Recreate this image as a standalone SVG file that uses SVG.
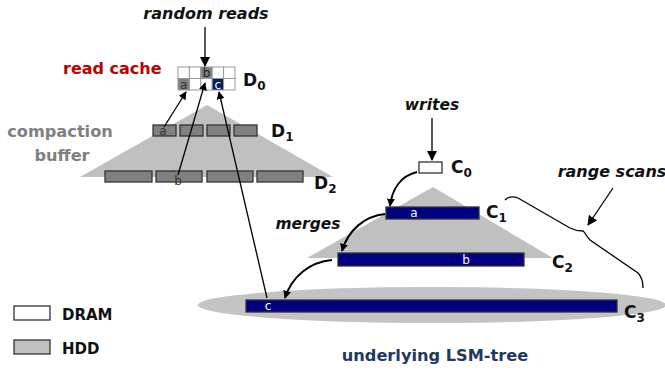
<svg xmlns="http://www.w3.org/2000/svg" width="665" height="371" viewBox="0 0 665 371">
<style>
.t{font-family:"DejaVu Sans","Liberation Sans",sans-serif;font-weight:bold}
.it{font-style:italic;fill:#111;font-size:15.5px}
.lbl{font-size:17px;fill:#111}
.sub{font-size:12px}
.hdd{fill:#808080;stroke:#333;stroke-width:1.3}
.cell{fill:#fff;stroke:#999;stroke-width:1}
.nv{fill:#000080;stroke:#333;stroke-width:1.3}
.tri{fill:#c0c0c0}
.in{font-family:"DejaVu Sans","Liberation Sans",sans-serif;font-size:12px}
.cn{fill:none;stroke:#000;stroke-width:1.3}
.cb{fill:none;stroke:#000;stroke-width:2}
</style>
<defs>
<marker id="ah" viewBox="0 0 10 10" refX="9" refY="5" markerWidth="8" markerHeight="8" markerUnits="userSpaceOnUse" orient="auto"><path d="M0,0 L10,5 L0,10 z" fill="#000"/></marker>
<marker id="ahb" viewBox="0 0 10 10" refX="9" refY="5" markerWidth="10" markerHeight="10" markerUnits="userSpaceOnUse" orient="auto"><path d="M0,0 L10,5 L0,10 z" fill="#000"/></marker>
</defs>
<g id="compaction-tree">
<polygon class="tri" points="207,105 80,177 333,177"/>
</g>
<g id="lsm-tree-shapes">
<ellipse cx="432" cy="305" rx="234" ry="18" fill="#c4c4c4"/>
<polygon class="tri" points="433,187 307,258 553,258"/>
</g>
<g id="read-cache">
<rect class="cell" x="178" y="67" width="11.4" height="11.5"/>
<rect class="cell" x="189.4" y="67" width="11.4" height="11.5"/>
<rect class="hdd" x="200.8" y="67" width="11.4" height="11.5" style="stroke:#999;stroke-width:1"/>
<rect class="cell" x="212.2" y="67" width="11.4" height="11.5"/>
<rect class="cell" x="223.6" y="67" width="11.4" height="11.5"/>
<rect class="hdd" x="178" y="78.5" width="11.4" height="11.5" style="stroke:#999;stroke-width:1"/>
<rect class="cell" x="189.4" y="78.5" width="11.4" height="11.5"/>
<rect class="cell" x="200.8" y="78.5" width="11.4" height="11.5"/>
<rect x="212.2" y="78.5" width="11.4" height="11.5" fill="#002060" stroke="#999"/>
<rect class="cell" x="223.6" y="78.5" width="11.4" height="11.5"/>
<text class="in" x="206.5" y="77" text-anchor="middle" fill="#222">b</text>
<text class="in" x="183.7" y="88.5" text-anchor="middle" fill="#333">a</text>
<text class="in" x="217.9" y="88.5" text-anchor="middle" fill="#fff">c</text>
<text class="t" x="63" y="74" font-size="16" fill="#c00000">read cache</text>
<text class="t lbl" x="243" y="86">D<tspan class="sub" dy="4">0</tspan></text>
</g>
<g id="D1">
<rect class="hdd" x="153" y="125" width="23" height="11"/>
<rect class="hdd" x="180" y="125" width="23" height="11"/>
<rect class="hdd" x="207" y="125" width="23" height="11"/>
<rect class="hdd" x="234" y="125" width="23" height="11"/>
<text class="in" x="163" y="135" text-anchor="middle" fill="#333">a</text>
<text class="t lbl" x="271" y="137">D<tspan class="sub" dy="4">1</tspan></text>
</g>
<g id="D2">
<rect class="hdd" x="105" y="171" width="47" height="11"/>
<rect class="hdd" x="156" y="171" width="46" height="11"/>
<rect class="hdd" x="207" y="171" width="46" height="11"/>
<rect class="hdd" x="257" y="171" width="46" height="11"/>
<text class="in" x="178" y="185" text-anchor="middle" fill="#333">b</text>
<text class="t lbl" x="314" y="189">D<tspan class="sub" dy="4">2</tspan></text>
</g>
<g id="compaction-label">
<text class="t" x="60" y="137" font-size="16.2" fill="#808080" text-anchor="middle">compaction</text>
<text class="t" x="62" y="161" font-size="16.2" fill="#808080" text-anchor="middle">buffer</text>
</g>
<g id="C0">
<rect x="419" y="162" width="23" height="11" fill="#fff" stroke="#333" stroke-width="1.3"/>
<text class="t lbl" x="451" y="173">C<tspan class="sub" dy="4">0</tspan></text>
</g>
<g id="C1">
<rect class="nv" x="386" y="207" width="93" height="12"/>
<text class="in" x="414" y="217" text-anchor="middle" fill="#fff">a</text>
<text class="t lbl" x="486" y="218">C<tspan class="sub" dy="4">1</tspan></text>
</g>
<g id="C2">
<rect class="nv" x="338" y="253" width="186" height="13"/>
<text class="in" x="466" y="264" text-anchor="middle" fill="#fff">b</text>
<text class="t lbl" x="552" y="268">C<tspan class="sub" dy="4">2</tspan></text>
</g>
<g id="C3">
<rect class="nv" x="246" y="300" width="371" height="12"/>
<text class="in" x="268" y="310" text-anchor="middle" fill="#fff">c</text>
<text class="t lbl" x="624" y="318">C<tspan class="sub" dy="4">3</tspan></text>
</g>
<g id="labels">
<text class="t it" x="206" y="19" text-anchor="middle" font-size="16" style="font-size:16px">random reads</text>
<text class="t it" x="432" y="110" text-anchor="middle">writes</text>
<text class="t it" x="308" y="229" text-anchor="middle">merges</text>
<text class="t it" x="612" y="177" text-anchor="middle" style="font-size:16px">range scans</text>
<text class="t" x="435" y="361" font-size="16.2" fill="#1f3864" text-anchor="middle">underlying LSM-tree</text>
</g>
<g id="legend">
<rect x="14" y="306" width="36" height="14" fill="#fff" stroke="#333" stroke-width="1.3"/>
<text class="t" x="62" y="320" font-size="15" fill="#111">DRAM</text>
<rect x="14" y="340" width="36" height="14" fill="#c0c0c0" stroke="#333" stroke-width="1.3"/>
<text class="t" x="62" y="354" font-size="15" fill="#111">HDD</text>
</g>
<g id="connectors">
<line class="cn" x1="205" y1="27" x2="205" y2="66" marker-end="url(#ahb)"/>
<line class="cn" x1="164" y1="127" x2="186" y2="92" marker-end="url(#ah)"/>
<line class="cn" x1="178" y1="175" x2="205" y2="83" marker-end="url(#ah)"/>
<line class="cn" x1="267" y1="298" x2="219" y2="92" marker-end="url(#ah)"/>
<line class="cn" x1="432" y1="118" x2="432" y2="160" marker-end="url(#ahb)"/>
<path class="cb" d="M417,172 C400,176 392,190 390,206" marker-end="url(#ah)"/>
<path class="cb" d="M385,214 C365,216 348,230 342,251" marker-end="url(#ah)"/>
<path class="cb" d="M332,260 C310,262 292,276 285,298" marker-end="url(#ah)"/>
<line class="cn" x1="613" y1="188" x2="588" y2="225" marker-end="url(#ahb)"/>
<path class="cn" d="M505,200 C508,197 513,196 518,198 L570,228 C576,231 580,231 583,231 C585,232 586,236 590,240 L638,273 C642,277 643,282 643,288"/>
</g>
</svg>
